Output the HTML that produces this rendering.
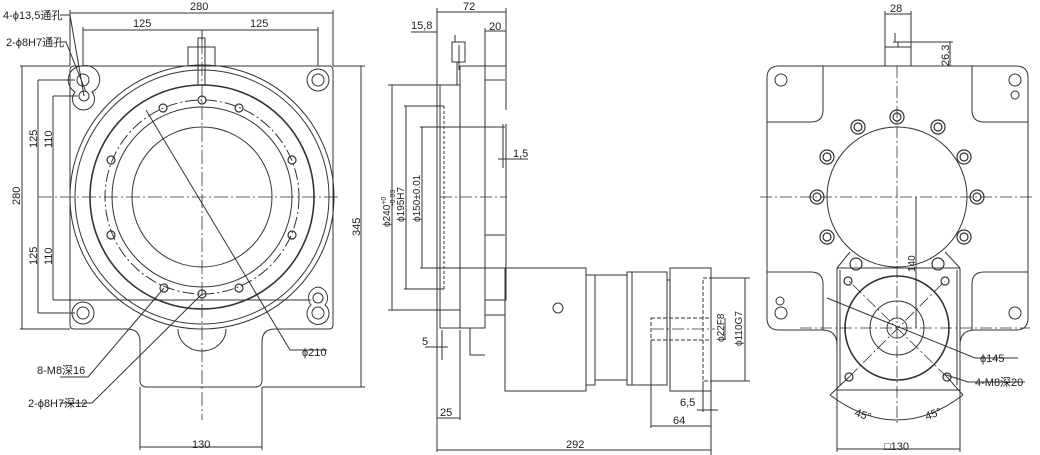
<!DOCTYPE html>
<html><head><meta charset="utf-8"><style>
html,body{margin:0;padding:0;background:#fff}
svg{display:block}
text{font-family:"Liberation Sans","Noto Sans CJK SC",sans-serif;font-size:11px;fill:#222}
</style></head><body>
<svg width="1040" height="455" viewBox="0 0 1040 455" xmlns="http://www.w3.org/2000/svg">
<g fill="none" stroke="#333" stroke-width="1">
<!-- LEFT VIEW -->
<path d="M74,66 H329 Q333,66 333,70 V325 Q333,329 329,329 H275 Q262,329 262,342 V380 Q262,387 255,387 H147 Q140,387 140,380 V342 Q140,329 127,329 H74 Q70,329 70,325 V70 Q70,66 74,66Z"/>
<path d="M178,329 A24,22 0 0 0 226,329"/>
<circle cx="202" cy="197" r="132"/>
<circle cx="202" cy="197" r="127"/>
<circle cx="202" cy="197" r="112" stroke-width="1.6"/>
<circle cx="202" cy="197" r="97" stroke-dasharray="12,3,2,3"/>
<circle cx="202" cy="197" r="90"/>
<circle cx="202" cy="197" r="70"/>
<path d="M82,66 A14,14 0 0 0 75,92 A11,11 0 1 0 92,92 A14,14 0 0 0 82,66" />
<circle cx="83" cy="80" r="6"/><circle cx="84" cy="96" r="5"/>
<circle cx="318" cy="80" r="11"/><circle cx="318" cy="80" r="6"/>
<circle cx="83" cy="313" r="11"/><circle cx="83" cy="313" r="6"/>
<path d="M318,287 A11,11 0 0 0 311,305 A11,11 0 1 0 325,305 A11,11 0 0 0 318,287"/>
<circle cx="318" cy="298" r="5"/><circle cx="318" cy="313" r="6"/>
<g stroke-width="1.2">
<circle cx="202" cy="100" r="4"/><circle cx="202" cy="294" r="4"/>
<circle cx="163" cy="108" r="4"/><circle cx="239" cy="108" r="4"/>
<circle cx="111" cy="160" r="4"/><circle cx="292" cy="160" r="4"/>
<circle cx="111" cy="235" r="4"/><circle cx="292" cy="235" r="4"/>
<circle cx="164" cy="288" r="4"/><circle cx="239" cy="288" r="4"/>
</g>
<rect x="188" y="47" width="27" height="19"/>
<rect x="198" y="38" width="7" height="47"/>
<path d="M202,30V40 M193,85H211"/>
<path d="M202,40V420 M38,197H340" stroke-dasharray="14,3,2,3" stroke-width="0.8"/>
<path d="M146,110 L290,350 H327 M164,288 L88,377 H60 M202,294 L92,403 H60 M86,92 L66,42 H60 M84,96 L70,15 H60"/>
<path d="M70,13H333 M70,10V66 M333,10V66"/>
<path d="M83,30H318 M83,27V66 M318,27V66"/>
<path d="M38,80V313 M38,80H75 M38,313H75 M53,96V300 M53,96H78 M53,300H311 M22,66V329 M20,66H70 M20,329H70"/>
<path d="M361,66V387 M333,66H365 M262,387H365"/>
<path d="M140,387V450 M262,387V450 M140,447H262"/>
<!-- MIDDLE VIEW -->
<path d="M437,8V452 M506,8V66 M485,28V66 M411,32H437 M437,12H506 M485,31H506"/>
<path d="M440,85H460 V328 H440 Z"/>
<path d="M460,66 H506 V110 M506,124 V268 M460,66V328 H485 V110 M485,66 V300 H506 V268"/>
<path d="M485,80H505 M485,235H505 M470,328V355H485 M485,315H505"/>
<path d="M457,62 V85 M452,42 H465 V62 H452 Z M455,35V42 M459,45V70"/>
<rect x="505" y="268" width="81" height="123"/>
<circle cx="558" cy="308" r="5"/>
<rect x="586" y="275" width="9" height="110"/>
<rect x="595" y="275" width="32" height="105"/>
<rect x="627" y="272" width="40" height="113"/>
<path d="M632,272V385 M667,280H670 V380"/>
<rect x="670" y="268" width="41" height="123"/>
<rect x="703" y="278" width="8" height="103" stroke-dasharray="4,2"/>
<rect x="651" y="318" width="60" height="22" stroke-dasharray="4,2"/>
<path d="M652,329H715 M440,197H507" stroke-dasharray="12,3,2,3" stroke-width="0.8"/>
<path d="M444,106V289 M444,127H505 M444,268H505" stroke-dasharray="3,2"/>
<path d="M392,85V310 M388,85H440 M388,310H460 M406,106V289 M404,106H444 M404,289H444 M422,127V268 M420,127H505 M420,268H505"/>
<path d="M498,159H528 M503,124V168"/>
<path d="M425,347H448 M442,330V360"/>
<path d="M437,418H460 M460,330V420 M651,340V428 M651,426H711 M711,391V455 M703,381V412 M697,410H718 M437,450H711"/>
<path d="M725,318V340 M745,278V381 M711,278H750 M711,381H750"/>
<!-- RIGHT VIEW -->
<path d="M779,66 H1016 Q1028,66 1028,78 V318 Q1028,330 1016,330 H975 Q960,330 960,345 V390 H837 V345 Q837,330 822,330 H779 Q767,330 767,318 V78 Q767,66 779,66Z"/>
<path d="M823,66V110 Q823,122 811,122 H767 M972,66V110 Q972,122 984,122 H1028 M823,330V284 Q823,272 811,272 H767 M972,330V284 Q972,272 984,272 H1028"/>
<circle cx="897" cy="197" r="70"/>
<path d="M837,268H960 M837,268V390 M960,268V390 M850,252L837,268 M945,252L960,268 M840,270V385 M957,270V385"/>
<circle cx="897" cy="328" r="52" stroke-width="1.6"/>
<circle cx="897" cy="328" r="27"/>
<circle cx="897" cy="328" r="10"/>
<g stroke-width="1.2">
<circle cx="897" cy="117" r="7"/><circle cx="897" cy="117" r="4"/>
<circle cx="938" cy="127" r="7"/><circle cx="938" cy="127" r="4"/>
<circle cx="964" cy="157" r="7"/><circle cx="964" cy="157" r="4"/>
<circle cx="977" cy="197" r="7"/><circle cx="977" cy="197" r="4"/>
<circle cx="964" cy="237" r="7"/><circle cx="964" cy="237" r="4"/>
<circle cx="938" cy="264" r="6"/><circle cx="856" cy="264" r="6"/>
<circle cx="858" cy="127" r="7"/><circle cx="858" cy="127" r="4"/>
<circle cx="827" cy="157" r="7"/><circle cx="827" cy="157" r="4"/>
<circle cx="817" cy="197" r="7"/><circle cx="817" cy="197" r="4"/>
<circle cx="827" cy="237" r="7"/><circle cx="827" cy="237" r="4"/>
<circle cx="848" cy="281" r="4"/><circle cx="945" cy="281" r="4"/>
<circle cx="849" cy="377" r="4"/><circle cx="947" cy="377" r="4"/>
</g>
<circle cx="781" cy="80" r="6"/><circle cx="1015" cy="80" r="6"/><circle cx="1015" cy="95" r="4"/>
<circle cx="780" cy="301" r="4"/><circle cx="781" cy="313" r="6"/><circle cx="1015" cy="313" r="6"/>
<rect x="885" y="47" width="26" height="19"/>
<path d="M893,42H898V47 M895,33V42"/>
<path d="M897,66V425 M760,197H1035 M800,328H1030 M849,377L945,281 M947,377L849,281" stroke-dasharray="12,3,2,3" stroke-width="0.8"/>
<path d="M830,395 Q897,445 963,395 M830,395L849,377 M963,395L947,377"/>
<path d="M885,14H911 M885,11V47 M911,11V47 M898,42H953 M950,42V66 M911,66H953"/>
<path d="M916,197V328"/>
<path d="M827,298 L975,358 H1018 M943,374 L968,382 H1025"/>
<path d="M837,390V452 M960,390V452 M837,449H960"/>
</g>
<text x="190" y="10">280</text>
<text x="133" y="27">125</text>
<text x="250" y="27">125</text>
<text x="3" y="19">4-ϕ13,5通孔</text>
<text x="6" y="46">2-ϕ8H7通孔</text>
<text transform="translate(20,205) rotate(-90)">280</text>
<text transform="translate(37,148) rotate(-90)">125</text>
<text transform="translate(52,148) rotate(-90)">110</text>
<text transform="translate(37,265) rotate(-90)">125</text>
<text transform="translate(52,265) rotate(-90)">110</text>
<text transform="translate(360,236) rotate(-90)">345</text>
<text x="302" y="356">ϕ210</text>
<text x="37" y="374">8-M8深16</text>
<text x="28" y="407">2-ϕ8H7深12</text>
<text x="192" y="448">130</text>
<text x="463" y="10">72</text>
<text x="411" y="29">15,8</text>
<text x="489" y="30">20</text>
<text x="513" y="157">1,5</text>
<text x="422" y="345">5</text>
<text x="440" y="416">25</text>
<text x="680" y="406">6,5</text>
<text x="673" y="424">64</text>
<text x="566" y="448">292</text>
<text transform="translate(390,227) rotate(-90)" style="font-size:10px">ϕ240<tspan dy="-4" style="font-size:7px">+0</tspan><tspan dx="-9" dy="9" style="font-size:7px">-0.03</tspan></text>
<text transform="translate(404,222) rotate(-90)" style="font-size:10px">ϕ195H7</text>
<text transform="translate(420,222) rotate(-90)" style="font-size:10px">ϕ150±0.01</text>
<text transform="translate(724,342) rotate(-90)" style="font-size:10px">ϕ22F8</text>
<text transform="translate(742,346) rotate(-90)" style="font-size:10px">ϕ110G7</text>
<text x="890" y="12">28</text>
<text transform="translate(949,66) rotate(-90)">26,3</text>
<text transform="translate(915,272) rotate(-90)" style="font-size:10px">140</text>
<text x="980" y="362">ϕ145</text>
<text x="975" y="386">4-M8深20</text>
<text x="855" y="418" transform="rotate(20,862,414)">45°</text>
<text x="925" y="418" transform="rotate(-20,932,414)">45°</text>
<text x="884" y="450">□130</text>
</svg>
</body></html>
